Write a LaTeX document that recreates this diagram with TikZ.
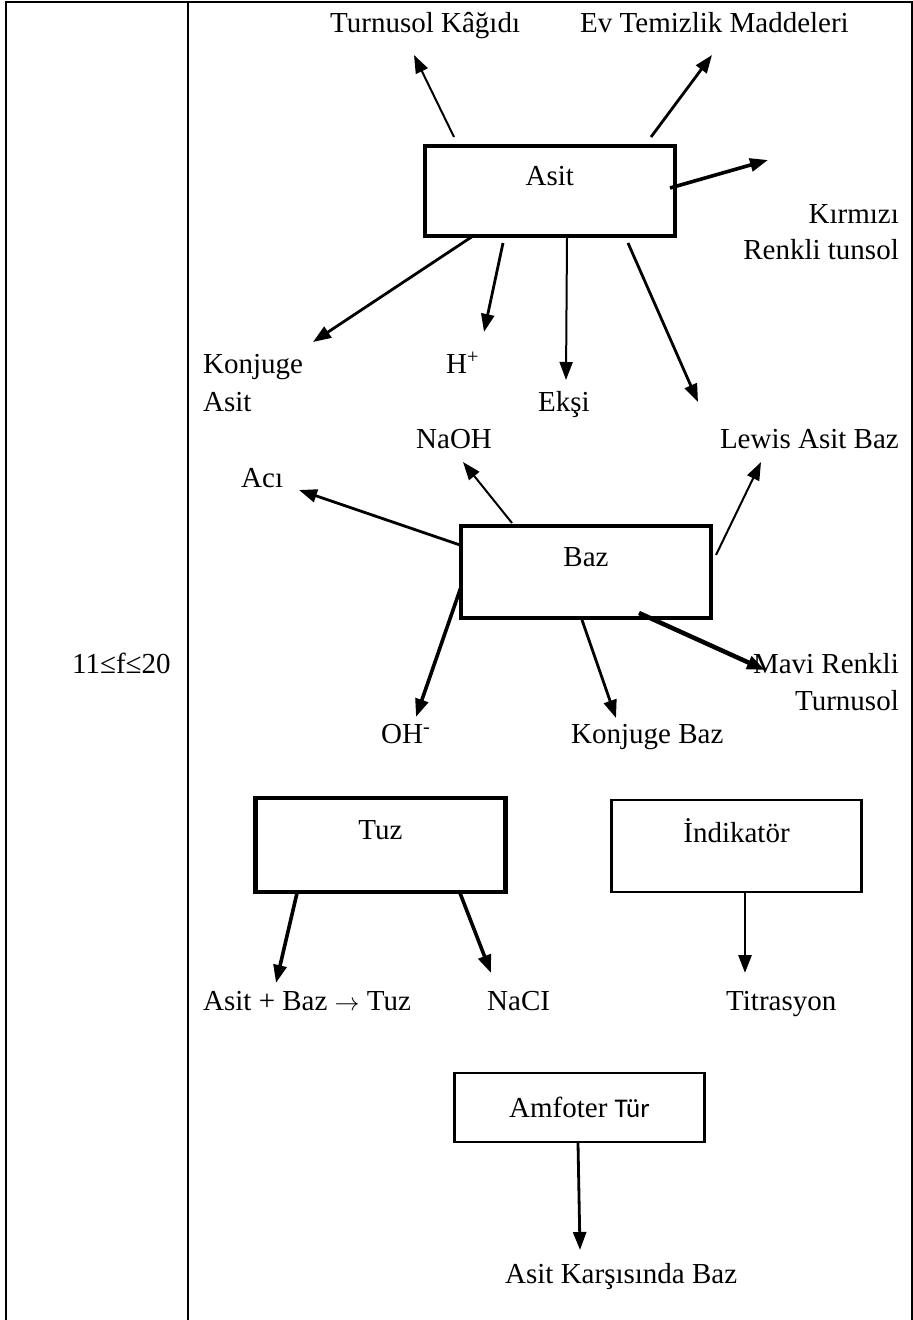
\documentclass[tikz,border=0pt]{standalone}
\usepackage{fontspec}
\setmainfont{Liberation Serif}
\newfontfamily\sansf{Carlito}
\usetikzlibrary{arrows.meta}
\begin{document}
\begin{tikzpicture}[x=1pt,y=-1pt,
  txt/.style={inner sep=0pt, font=\fontsize{29}{35}\selectfont},
  boxbase/.style={draw, rectangle, inner sep=0pt, minimum width=250pt, text height=19pt,
                  font=\fontsize{29}{35}\selectfont},
  boxthick/.style={boxbase, line width=4.5pt},
  boxthin/.style={boxbase, line width=2.5pt},
  arr/.style={-{Triangle[length=18pt,width=13pt]}},
  wa/.style={arr, line width=2pt},
  wb/.style={arr, line width=2.8pt},
  wc/.style={arr, line width=3.6pt},
  wd/.style={arr, line width=4.5pt},
  frame/.style={line width=2pt}
]
\useasboundingbox (0,0) rectangle (913,1320);
\fill[white] (0,0) rectangle (913,1320);

% table frame
\draw[frame] (6,1320) -- (6,2) -- (911.5,2) -- (911.5,1320);
\draw[frame] (188,2) -- (188,1320);
\node[txt, anchor=base west] (range) at (72,673) {11≤f≤20};

% ---------------- Asit ----------------
\node[boxthick, minimum height=90pt, text depth=30pt] (asit) at (549.75,191) {Asit};
\node[txt, anchor=base west] (turnusol) at (330,32) {Turnusol Kâğıdı};
\node[txt, anchor=base west] (evtem) at (580,32) {Ev Temizlik Maddeleri};
\node[txt, anchor=base east] (kirmizi) at (899,223) {Kırmızı};
\node[txt, anchor=base east] (renkli) at (899,259) {Renkli tunsol};
\node[txt, anchor=base west] (konj) at (203,373) {Konjuge};
\node[txt, anchor=base west] (konjasit) at (203,411) {Asit};
\node[txt, anchor=base west] (hplus) at (446,373) {H\textsuperscript{+}};
\node[txt, anchor=base west] (eksi) at (538,411) {Ekşi};

\coordinate (a1s) at (454,137); \coordinate (a1e) at (414,55);
\coordinate (a2s) at (651,137); \coordinate (a2e) at (712,55);
\coordinate (a3s) at (670,188); \coordinate (a3e) at (768,160);
\coordinate (a4s) at (473,236); \coordinate (a4e) at (313,342);
\coordinate (a5s) at (503,243); \coordinate (a5e) at (484,332);
\coordinate (a6s) at (567,238); \coordinate (a6e) at (566,380);
\coordinate (a7s) at (628,243); \coordinate (a7e) at (698,402);
\draw[wa] (a1s) -- (a1e);
\draw[wb] (a2s) -- (a2e);
\draw[wc] (a3s) -- (a3e);
\draw[wb] (a4s) -- (a4e);
\draw[wb] (a5s) -- (a5e);
\draw[wa] (a6s) -- (a6e);
\draw[wb] (a7s) -- (a7e);

% ---------------- Baz ----------------
\node[boxthick, minimum height=92pt, text depth=30pt] (baz) at (586,572) {Baz};
\node[txt, anchor=base west] (naoh) at (416,448) {NaOH};
\node[txt, anchor=base east] (lewis) at (899,448) {Lewis Asit Baz};
\node[txt, anchor=base west] (aci) at (241,487) {Acı};
\node[txt, anchor=base east] (mavi) at (899,673) {Mavi Renkli};
\node[txt, anchor=base east] (turn2) at (899,710) {Turnusol};
\node[txt, anchor=base west] (oh) at (381,743) {OH\textsuperscript{-}};
\node[txt, anchor=base west] (konjbaz) at (571,743) {Konjuge Baz};

\coordinate (b1s) at (512,523); \coordinate (b1e) at (463,462);
\coordinate (b2s) at (460,545); \coordinate (b2e) at (299,490);
\coordinate (b3s) at (716,555); \coordinate (b3e) at (761,462);
\coordinate (b4s) at (461,587); \coordinate (b4e) at (416,717);
\coordinate (b5s) at (582,620); \coordinate (b5e) at (616,718);
\coordinate (b6s) at (639,613); \coordinate (b6e) at (765,670);
\draw[wa] (b1s) -- (b1e);
\draw[wb] (b2s) -- (b2e);
\draw[wa] (b3s) -- (b3e);
\draw[wc] (b4s) -- (b4e);
\draw[wb] (b5s) -- (b5e);
\draw[wd] (b6s) -- (b6e);

% ---------------- Tuz / Indikator ----------------
\node[boxthick, minimum height=94pt, text depth=30pt] (tuz) at (380.5,845) {Tuz};
\node[boxthin, minimum height=92pt, text depth=26pt] (indik) at (736.5,846) {İndikatör};
\node[txt, anchor=base west] (reac) at (203,1010) {Asit + Baz {\fontsize{26}{30}\selectfont$\rightarrow$} Tuz};
\node[txt, anchor=base west] (nacl) at (487,1010) {NaCI};
\node[txt, anchor=base west] (titr) at (726,1010) {Titrasyon};

\coordinate (c1s) at (297,893); \coordinate (c1e) at (276,983);
\coordinate (c2s) at (460,893); \coordinate (c2e) at (491,973);
\coordinate (c3s) at (745,893); \coordinate (c3e) at (745,973);
\draw[wc] (c1s) -- (c1e);
\draw[wc] (c2s) -- (c2e);
\draw[wb] (c3s) -- (c3e);

% ---------------- Amfoter ----------------
\node[boxthin, minimum height=69pt, text depth=0pt] (amf) at (579.5,1107.5) {Amfoter {\sansf\fontsize{27}{32}\selectfont Tür}};
\node[txt, anchor=base west] (karsi) at (505,1283) {Asit Karşısında Baz};
\coordinate (d1s) at (578,1143); \coordinate (d1e) at (580,1250);
\draw[wb] (d1s) -- (d1e);
\end{tikzpicture}
\end{document}
